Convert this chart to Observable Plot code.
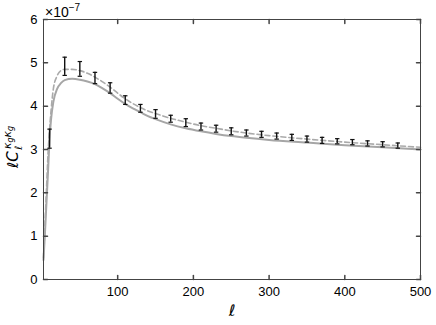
<!DOCTYPE html>
<html><head><meta charset="utf-8">
<script src="https://cdn.jsdelivr.net/npm/d3@7"></script>
<script src="https://cdn.jsdelivr.net/npm/@observablehq/plot@0.6"></script>
<style>body{margin:0;background:#fff;}</style>
</head><body><div id="chart"></div>
<script>
// values in units of 1e-7
const binEll = [10,30,50,70,90,110,130,150,170,190,210,230,250,270,290,310,330,350,370,390,410,430,450,470];
const binValue = [3.25,4.92,4.86,4.65,4.42,4.14,3.95,3.82,3.71,3.62,3.53,3.48,3.42,3.38,3.35,3.31,3.28,3.24,3.21,3.19,3.17,3.14,3.12,3.09];
const binError = [0.22,0.21,0.17,0.13,0.12,0.10,0.09,0.10,0.08,0.09,0.08,0.08,0.08,0.07,0.07,0.07,0.07,0.07,0.07,0.06,0.06,0.06,0.06,0.06];

const dashedEll = [2,4,6,8,10,12,15,20,25,30,40,50,60,70,80,90,100,110,120,130,140,150,170,190,210,230,250,270,300,350,400,450,500];
const dashedValue = [0.5,1.3,2.1,2.9,3.45,3.9,4.4,4.7,4.82,4.85,4.85,4.82,4.76,4.67,4.56,4.44,4.30,4.17,4.06,3.97,3.89,3.83,3.72,3.63,3.55,3.49,3.43,3.38,3.32,3.24,3.17,3.11,3.05];

const solidEll = [2,4,6,8,10,12,15,20,25,30,40,50,60,70,80,90,100,110,120,130,140,150,170,190,210,230,250,270,300,350,400,450,500];
const solidValue = [0.45,1.1,1.8,2.5,3.25,3.7,4.1,4.4,4.53,4.6,4.63,4.61,4.57,4.51,4.41,4.30,4.17,4.05,3.95,3.86,3.77,3.70,3.58,3.49,3.42,3.36,3.31,3.27,3.22,3.16,3.10,3.05,3.00];

const xTicks = [100,200,300,400,500];
const yTicks = [0,1,2,3,4,5,6];

const bins = binEll.map((l,i)=>({l, v: binValue[i], e: binError[i]}));
const dashed = dashedEll.map((l,i)=>({l, v: dashedValue[i]}));
const solid = solidEll.map((l,i)=>({l, v: solidValue[i]}));

const tickShape = {draw(ctx, l){ ctx.moveTo(0,0); ctx.lineTo(0,-l); }};
const capSymbol = {draw(ctx, size){ const w = Math.sqrt(size/Math.PI); ctx.moveTo(-w,0); ctx.lineTo(w,0); }};
const axisColor = "#444";
const FONT = "Liberation Sans";

const plot = Plot.plot({
  width: 436, height: 325,
  marginLeft: 43, marginRight: 16, marginTop: 19, marginBottom: 46,
  style: {fontFamily: FONT, fontSize: "13px", background: "#fff", color: "#000"},
  x: {type: "linear", domain: [2,500]},
  y: {type: "linear", domain: [0,6]},
  marks: [
    Plot.line(solid, {x: "l", y: "v", stroke: "#a6a6a6", strokeWidth: 2, curve: "monotone-x"}),
    Plot.line(dashed, {x: "l", y: "v", stroke: "#aaaaaa", strokeWidth: 1.6, strokeDasharray: "5,3", curve: "monotone-x"}),
    Plot.ruleX(bins, {x: "l", y1: d=>d.v-d.e, y2: d=>d.v+d.e, stroke: "#111", strokeWidth: 1.4}),
    Plot.dot(bins, {x: "l", y: d=>d.v-d.e, symbol: capSymbol, r: 2.2, stroke: "#111", fill: "none", strokeWidth: 1.2}),
    Plot.dot(bins, {x: "l", y: d=>d.v+d.e, symbol: capSymbol, r: 2.2, stroke: "#111", fill: "none", strokeWidth: 1.2}),
    Plot.frame({stroke: axisColor, strokeWidth: 1}),
    Plot.axisX({ticks: xTicks, tickSize: 0, tickPadding: 7, tickFormat: d=>String(d), label: null, fill: "#000"}),
    Plot.axisY({ticks: yTicks, tickSize: 0, tickPadding: 6, tickFormat: d=>String(d), label: null, fill: "#000"}),
    Plot.vector(xTicks, {x: d=>d, frameAnchor: "bottom", length: 4, rotate: 0, anchor: "start", shape: tickShape, stroke: axisColor}),
    Plot.vector(xTicks, {x: d=>d, frameAnchor: "top", length: 4, rotate: 180, anchor: "start", shape: tickShape, stroke: axisColor}),
    Plot.vector(yTicks, {y: d=>d, frameAnchor: "left", length: 4, rotate: 90, anchor: "start", shape: tickShape, stroke: axisColor}),
    Plot.vector(yTicks, {y: d=>d, frameAnchor: "right", length: 4, rotate: -90, anchor: "start", shape: tickShape, stroke: axisColor})
  ]
});
document.getElementById("chart").appendChild(plot);

const svg = d3.select(plot);
// offset label
const off = svg.append("text").attr("x", 45).attr("y", 17).attr("text-anchor", "start")
  .attr("font-family", FONT).attr("font-size", 14).attr("fill", "#000");
off.append("tspan").text("×10");
off.append("tspan").attr("dy", -6).attr("font-size", 10).text("−7");
// x label
svg.append("text").attr("x", 232).attr("y", 316).attr("text-anchor", "middle")
  .attr("font-family", "DejaVu Sans").attr("font-style", "italic").attr("font-size", 16).attr("fill", "#000").text("ℓ");
// y label
const g = svg.append("g").attr("transform", "translate(18,168) rotate(-90)")
  .attr("font-family", "DejaVu Sans").attr("fill", "#000").attr("text-anchor", "start");
const main = g.append("text").attr("x", 0).attr("y", 0).attr("font-size", 15).attr("font-style", "italic").attr("text-anchor", "start");
main.append("tspan").text("ℓC");
const sup = g.append("text").attr("x", 19).attr("y", -7).attr("font-size", 11).attr("font-style", "italic").attr("text-anchor", "start");
sup.append("tspan").text("κ");
sup.append("tspan").attr("dy", 2).attr("font-size", 8).text("g");
sup.append("tspan").attr("dy", -2).attr("font-size", 11).text("κ");
sup.append("tspan").attr("dy", 2).attr("font-size", 8).text("g");
g.append("text").attr("x", 18).attr("y", 4).attr("font-size", 10).attr("font-style", "italic").attr("text-anchor", "start").text("ℓ");
</script>
</body></html>
